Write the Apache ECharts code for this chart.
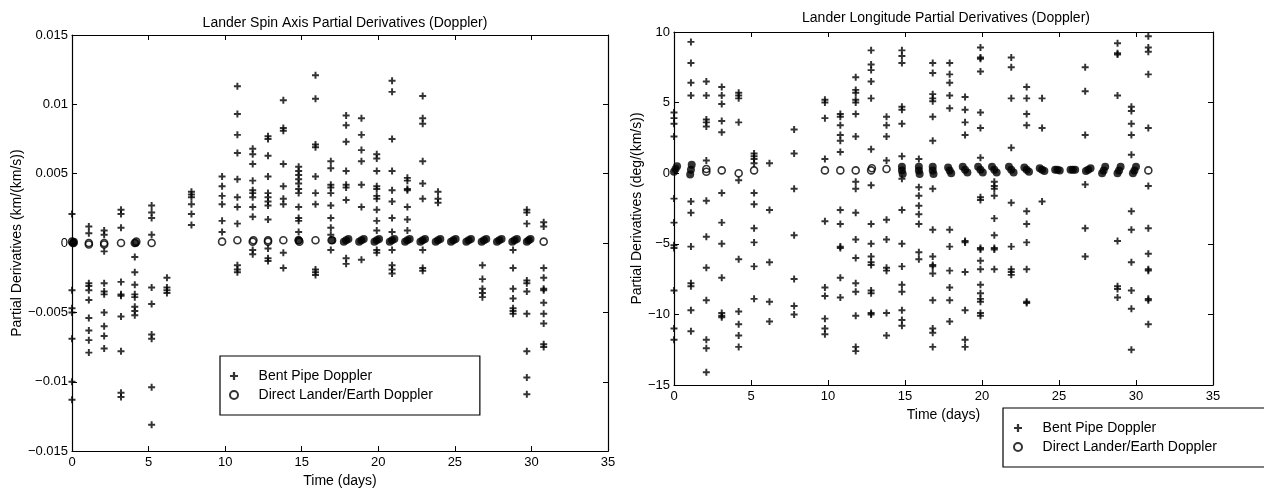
<!DOCTYPE html>
<html>
<head>
<meta charset="utf-8">
<script src="https://cdn.jsdelivr.net/npm/echarts@6/dist/echarts.min.js"></script>
<style>
  html, body { margin: 0; padding: 0; background: #fff; }
  #main { width: 1264px; height: 493px; }
</style>
</head>
<body>
<div id="main"></div>
<script>
// ---- data ----
// spin axis partials (km/(km/s)), bent pipe doppler, one list per pass day
const spinDays = [0, 1.1, 2.1, 3.2, 4.1, 5.2, 6.2, 7.8, 9.8, 10.8, 11.8, 12.8, 13.8, 14.8,
  15.9, 16.9, 17.9, 18.9, 19.9, 20.9, 21.9, 22.9, 23.9, 26.8, 28.8, 29.7, 30.8];
const spinBent = [
  [0.0021, -0.0034, -0.0047, -0.0050, -0.0069, -0.0100, -0.0113],
  [0.0012, 0.0007, -0.0029, -0.0031, -0.0034, -0.0041, -0.0054, -0.0063, -0.0070, -0.0079],
  [0.0009, 0.0006, -0.0006, -0.0029, -0.0035, -0.0037, -0.0050, -0.0060, -0.0067, -0.0076],
  [0.0024, 0.0021, 0.0011, -0.0028, -0.0037, -0.0038, -0.0053, -0.0078, -0.0108, -0.0111],
  [-0.0010, -0.0021, -0.0030, -0.0037, -0.0039, -0.0046, -0.0049, -0.0052],
  [0.0027, 0.0022, 0.0018, 0.0006, -0.0032, -0.0044, -0.0066, -0.0069, -0.0104, -0.0131],
  [-0.0025, -0.0032, -0.0034, -0.0036],
  [0.0037, 0.0035, 0.0033, 0.0028, 0.0021, 0.0013],
  [0.0048, 0.0041, 0.0034, 0.0028, 0.0016, 0.0008],
  [0.0113, 0.0093, 0.0078, 0.0065, 0.0046, 0.0033, 0.0026, 0.0014, -0.0016, -0.0019, -0.0021],
  [0.0068, 0.0064, 0.0057, 0.0045, 0.0038, 0.0036, 0.0033, 0.0026, 0.0019, -0.0005, -0.0008],
  [0.0077, 0.0075, 0.0063, 0.0048, 0.0036, 0.0033, 0.0030, 0.0027, 0.0017, -0.0004, -0.0011, -0.0013],
  [0.0103, 0.0083, 0.0081, 0.0057, 0.0041, 0.0032, 0.0028, -0.0007, -0.0018],
  [0.0055, 0.0052, 0.0049, 0.0046, 0.0043, 0.0039, 0.0036, 0.0026, 0.0018, 0.0016, 0.0008],
  [0.0121, 0.0104, 0.0071, 0.0069, 0.0048, 0.0036, 0.0028, -0.0019, -0.0021, -0.0023],
  [0.0059, 0.0054, 0.0042, 0.0040, 0.0036, 0.0027, 0.0018, 0.0011, 0.0006, -0.0005],
  [0.0092, 0.0085, 0.0073, 0.0052, 0.0042, 0.0040, 0.0031, -0.0011, -0.0015],
  [0.0090, 0.0078, 0.0067, 0.0059, 0.0042, 0.0026, -0.0012],
  [0.0064, 0.0061, 0.0052, 0.0041, 0.0039, 0.0034, 0.0032, 0.0024, 0.0016, 0.0009, -0.0005, -0.0007],
  [0.0117, 0.0109, 0.0075, 0.0052, 0.0038, 0.0030, 0.0018, 0.0008, -0.0005, -0.0016, -0.0019, -0.0022],
  [0.0047, 0.0045, 0.0039, 0.0038, 0.0026, 0.0017, 0.0009],
  [0.0106, 0.0090, 0.0086, 0.0059, 0.0043, 0.0032, -0.0005, -0.0018, -0.0020],
  [0.0037, 0.0032, 0.0029],
  [-0.0016, -0.0026, -0.0033, -0.0036, -0.0039],
  [-0.0005, -0.0018, -0.0033, -0.0040, -0.0047, -0.0049, -0.0051],
  [0.0024, 0.0022, 0.0014, -0.0027, -0.0029, -0.0035, -0.0051, -0.0078, -0.0097, -0.0109],
  [0.0015, 0.0012, -0.0018, -0.0025, -0.0033, -0.0034, -0.0043, -0.0051, -0.0058, -0.0073, -0.0075]
];
// direct lander/earth doppler: single circles and the dense overlapping passes
const spinRings = [[0, 0.0001], [0.1, 0], [1.1, 0], [1.1, -0.0001], [2.1, 0], [2.1, -0.0001],
  [3.2, 0], [4.1, 0], [4.2, 0.0001], [5.2, 0], [9.8, 0.0001], [10.8, 0.0002], [11.8, 0.0001],
  [11.85, 0.0002], [12.8, 0.0002], [12.8, 0.0001], [13.8, 0.0002], [14.8, 0.0002], [14.85, 0.0001],
  [15.9, 0.0002], [16.95, 0.0002], [30.8, 0.0001]];
const spinBlobs = [[0.05, 0], [0.12, 0.0001], [4.15, 0], [14.8, 0.0002], [17.0, 0.0002],
  [17.75, 0.0001], [17.9, 0.0002], [18.05, 0.0003],
  [18.75, 0.0001], [18.9, 0.0002], [19.05, 0.0003],
  [19.75, 0.0001], [19.9, 0.0002], [20.05, 0.0003],
  [20.75, 0.0001], [20.9, 0.0002], [21.05, 0.0003],
  [21.75, 0.0001], [21.9, 0.0002], [22.05, 0.0003],
  [22.75, 0.0001], [22.9, 0.0002], [23.05, 0.0003],
  [23.75, 0.0001], [23.9, 0.0002], [24.05, 0.0003],
  [24.75, 0.0001], [24.9, 0.0002], [25.05, 0.0003],
  [25.75, 0.0001], [25.9, 0.0002], [26.05, 0.0003],
  [26.75, 0.0001], [26.9, 0.0002], [27.05, 0.0003],
  [27.75, 0.0001], [27.9, 0.0002], [28.05, 0.0003],
  [28.75, 0.0001], [28.9, 0.0002], [29.05, 0.0003],
  [29.7, 0.0001], [29.82, 0.0002], [29.94, 0.0003]];

// longitude partials (deg/(km/s))
const longDays = [0, 1.1, 2.1, 3.1, 4.2, 5.2, 6.2, 7.8, 9.8, 10.8, 11.8, 12.8, 13.8, 14.8,
  15.9, 16.8, 17.9, 18.9, 19.9, 20.8, 21.9, 22.9, 23.9, 26.7, 28.8, 29.7, 30.8];
const longBent = [
  [4.3, 3.9, 3.5, 2.6, -1.8, -3.5, -5.1, -5.3, -8.3, -11.0, -11.8],
  [9.3, 7.8, 6.4, 5.5, -2.0, -2.8, -5.2, -7.8, -8.0, -9.7, -11.2],
  [6.5, 5.5, 3.8, 3.6, 3.3, 0.9, -1.95, -4.5, -6.7, -9.0, -11.8, -12.4, -14.1],
  [6.1, 5.5, 4.9, 3.7, 2.9, -1.4, -3.5, -5.0, -7.4, -9.9, -10.1, -10.2],
  [5.7, 5.5, 5.3, 3.6, -0.5, -6.1, -9.8, -10.7, -11.5, -12.3],
  [1.4, 1.2, 1.0, 0.7, -1.4, -2.2, -3.9, -4.9, -6.6, -8.9],
  [0.7, -2.6, -6.3, -9.1, -10.5],
  [3.1, 1.4, -1.1, -4.4, -7.5, -9.4, -10.0],
  [5.2, 5.0, 3.9, 1.0, -3.4, -8.1, -8.7, -10.3, -11.0, -11.4],
  [4.2, 4.0, 3.4, 2.7, 2.3, 1.5, -2.6, -3.6, -5.2, -5.3, -7.4, -8.8],
  [6.8, 5.9, 5.7, 5.2, 5.0, 4.2, 2.6, -0.6, -1.1, -2.8, -4.7, -6.0, -7.8, -8.4, -10.1, -12.3, -12.6],
  [8.7, 7.7, 7.3, 6.5, 5.3, 1.7, -0.85, -3.6, -5.0, -5.9, -6.3, -6.5, -8.3, -8.5, -9.9, -10.0],
  [4.0, 3.4, 2.6, 0.9, -3.3, -4.7, -6.7, -6.9, -9.9, -11.5],
  [8.7, 8.3, 7.8, 4.7, 4.5, 3.5, 1.2, -0.4, -2.6, -5.0, -6.6, -7.9, -8.4, -9.7, -10.4, -10.8],
  [1.0, -1.0, -1.6, -2.3, -2.9, -3.6, -5.6, -6.1],
  [7.8, 7.1, 5.6, 5.3, 5.1, 4.0, 2.3, -1.1, -4.0, -5.9, -6.5, -6.6, -7.1, -9.0, -11.0, -11.3, -12.3],
  [7.8, 7.0, 6.4, 5.5, 4.6, -4.0, -5.2, -6.9, -8.1, -9.0, -10.5],
  [5.4, 4.5, 3.6, 2.7, -4.8, -4.9, -7.0, -9.7, -11.8, -12.3],
  [8.9, 8.2, 8.1, 7.2, 4.3, 3.2, 1.1, -1.7, -1.9, -5.3, -5.4, -6.2, -6.8, -7.9, -8.5, -8.9, -9.1, -9.9, -10.1],
  [-0.6, -0.9, -1.1, -1.6, -3.2, -4.4, -5.3, -5.4, -6.8],
  [8.2, 7.5, 5.3, 1.8, -2.1, -5.2, -6.8, -7.0, -7.2],
  [6.1, 5.3, 4.2, 3.4, -2.7, -3.6, -4.9, -6.8, -9.1, -9.2],
  [5.3, 3.2, -2.0],
  [7.5, 5.8, 2.7, -0.8, -3.9, -5.9],
  [9.2, 8.5, 8.4, 5.5, -4.8, -8.0, -8.2, -8.8],
  [4.7, 4.4, 3.5, 2.7, 1.3, -2.7, -4.0, -6.3, -8.3, -9.6, -12.5],
  [9.7, 8.9, 8.6, 7.0, 3.2, -0.9, -3.9, -5.7, -6.8, -6.9, -8.9, -9.0, -10.7]
];
const longRings = [[2.1, 0.1], [2.1, 0.3], [3.1, 0.2], [4.2, 0.0], [5.2, 0.2], [9.8, 0.2],
  [10.8, 0.2], [11.8, 0.2], [12.8, 0.2], [12.85, 0.35], [13.8, 0.3], [30.8, 0.2]];
const longBlobs = [[0, 0.1], [0.1, 0.3], [0.2, 0.5], [1.05, -0.1], [1.1, 0.25], [1.15, 0.6],
  [14.8, 0.45], [14.8, 0.2], [14.85, -0.05],
  [15.9, 0.45], [15.9, 0.2], [15.95, -0.05],
  [16.8, 0.45], [16.8, 0.2], [16.85, -0.05],
  [17.8, 0.4], [17.9, 0.2], [18.0, 0.0],
  [18.75, 0.45], [18.9, 0.25], [19.05, 0.05],
  [19.75, 0.45], [19.9, 0.25], [20.05, 0.05],
  [20.65, 0.45], [20.8, 0.25], [20.95, 0.05],
  [21.75, 0.45], [21.9, 0.25], [22.05, 0.05],
  [22.75, 0.4], [22.9, 0.25], [23.05, 0.1],
  [23.75, 0.35], [23.9, 0.25], [24.05, 0.15],
  [24.75, 0.25], [24.9, 0.25], [25.05, 0.2],
  [25.75, 0.25], [25.9, 0.25], [26.05, 0.25],
  [26.75, 0.15], [26.9, 0.25], [27.05, 0.35],
  [27.8, 0.0], [27.9, 0.2], [28.0, 0.45],
  [28.8, 0.0], [28.9, 0.2], [29.0, 0.45],
  [29.8, 0.0], [29.9, 0.2], [30.0, 0.45]];

const dayTicks = [0, 35, 5];
const spinRange = [-0.015, 0.015, 0.005];
const longRange = [-15, 10, 5];

const BENT = 'Bent Pipe Doppler';
const DIRECT = 'Direct Lander/Earth Doppler';

function flatten(days, lists) {
  const out = [];
  days.forEach(function (d, i) {
    lists[i].forEach(function (v) { out.push([d, v]); });
  });
  return out;
}

const FONT = '"Liberation Sans", Arial, Helvetica, sans-serif';
const plus = 'path://M3.6,0 H6.4 V3.6 H10 V6.4 H6.4 V10 H3.6 V6.4 H0 V3.6 H3.6 Z';

function minus(s) { return String(s).replace('-', '\u2212'); }

function xAxes(gridIndex) {
  const base = {
    type: 'value', gridIndex: gridIndex,
    min: dayTicks[0], max: dayTicks[1], interval: dayTicks[2],
    splitLine: { show: false },
    axisLine: { onZero: false, lineStyle: { color: '#000', width: 1.2 } },
    axisTick: { inside: true, length: 5, lineStyle: { color: '#000' } }
  };
  return [
    Object.assign({}, base, {
      position: 'bottom',
      axisLabel: { color: '#000', fontFamily: FONT, fontSize: 13, margin: 5 },
      name: 'Time (days)', nameLocation: 'middle', nameGap: 20,
      nameTextStyle: { color: '#000', fontFamily: FONT, fontSize: 14 }
    }),
    Object.assign({}, base, { position: 'top', axisLabel: { show: false } })
  ];
}

function yAxes(gridIndex, range, name, gap, fmt) {
  const base = {
    type: 'value', gridIndex: gridIndex,
    min: range[0], max: range[1], interval: range[2],
    splitLine: { show: false },
    axisLine: { onZero: false, lineStyle: { color: '#000', width: 1.2 } },
    axisTick: { inside: true, length: 5, lineStyle: { color: '#000' } }
  };
  return [
    Object.assign({}, base, {
      position: 'left',
      axisLabel: { color: '#000', fontFamily: FONT, fontSize: 13, margin: 4, formatter: fmt },
      name: name, nameLocation: 'middle', nameGap: gap, nameRotate: 90,
      nameTextStyle: { color: '#000', fontFamily: FONT, fontSize: 14 }
    }),
    Object.assign({}, base, { position: 'right', axisLabel: { show: false } })
  ];
}

function legend(left, top, pad) {
  return {
    left: left, top: top, orient: 'vertical',
    data: [BENT, DIRECT],
    selectedMode: false,
    itemWidth: 8, itemHeight: 8, itemGap: 5,
    padding: pad,
    borderColor: '#000', borderWidth: 1.2, borderRadius: 0,
    backgroundColor: '#fff',
    formatter: function (n) { return '    ' + n; },
    textStyle: { color: '#000', fontFamily: FONT, fontSize: 14 }
  };
}

function panelSeries(xi, yi, bent, rings, blobs) {
  return [
    {
      name: BENT, type: 'scatter', xAxisIndex: xi, yAxisIndex: yi,
      symbol: plus, symbolSize: 7, itemStyle: { color: '#000' }, data: bent
    },
    {
      name: DIRECT, type: 'scatter', xAxisIndex: xi, yAxisIndex: yi,
      symbol: 'circle', symbolSize: 7,
      itemStyle: { color: 'rgba(255,255,255,0)', borderColor: '#000', borderWidth: 1.6 },
      data: rings
    },
    {
      name: DIRECT, type: 'scatter', xAxisIndex: xi, yAxisIndex: yi,
      symbol: 'circle', symbolSize: 8, itemStyle: { color: '#000' }, data: blobs
    }
  ];
}

const chart = echarts.init(document.getElementById('main'), null, { renderer: 'canvas' });

const option = {
  animation: false,
  backgroundColor: '#fff',
  title: [
    { text: 'Lander Spin Axis Partial Derivatives (Doppler)', left: 340, top: 11, textAlign: 'center',
      textStyle: { color: '#000', fontFamily: FONT, fontSize: 14, fontWeight: 'normal' } },
    { text: 'Lander Longitude Partial Derivatives (Doppler)', left: 941, top: 6, textAlign: 'center',
      textStyle: { color: '#000', fontFamily: FONT, fontSize: 14, fontWeight: 'normal' } }
  ],
  grid: [
    { left: 72, top: 35, width: 536, height: 422, containLabel: false },
    { left: 674, top: 32, width: 539, height: 353, containLabel: false }
  ],
  xAxis: xAxes(0).concat(xAxes(1)),
  yAxis: yAxes(0, spinRange, 'Partial Derivatives (km/(km/s))', 47, function (v) {
    return v === 0 ? '0' : minus(+v.toFixed(3));
  }).concat(yAxes(1, longRange, 'Partial Derivatives (deg/(km/s))', 27, function (v) {
    return minus(v);
  })),
  legend: [
    legend(220, 356, [13, 47, 13, 9]),
    legend(1003, 408, [13, 120, 13, 10])
  ],
  series: panelSeries(0, 0, flatten(spinDays, spinBent), spinRings, spinBlobs)
    .concat(panelSeries(2, 2, flatten(longDays, longBent), longRings, longBlobs))
};

chart.setOption(option);
</script>
</body>
</html>
